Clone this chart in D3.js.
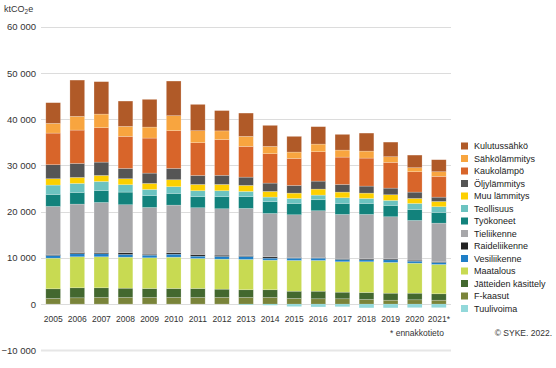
<!DOCTYPE html>
<html><head><meta charset="utf-8">
<script src="https://cdn.jsdelivr.net/npm/d3@7"></script>
<style>body{margin:0;background:#fff}svg{display:block;font-family:"Liberation Sans",Arial,sans-serif}</style>
</head><body><svg id="c" width="556" height="368"></svg>
<script>
const years = ["2005","2006","2007","2008","2009","2010","2011","2012","2013","2014","2015","2016","2017","2018","2019","2020","2021*"];
const seriesNames = ["Kulutussähkö","Sähkölämmitys","Kaukolämpö","Öljylämmitys","Muu lämmitys","Teollisuus","Työkoneet","Tieliikenne","Raideliikenne","Vesiliikenne","Maatalous","Jätteiden käsittely","F-kaasut","Tuulivoima"];
const colors = ["#b05a28","#f8a53f","#d8652a","#555555","#fdd000","#6cc3c0","#12827c","#a7a7aa","#222222","#1f7fc7","#c8da52","#43682f","#7a843a","#92d8da"];
const kulutussahko = [4480,7850,7020,5480,6000,7490,5690,4390,5040,4550,3400,3770,3400,3900,3160,2730,2600];
const sahkolammitys = [2100,2970,2940,2160,2380,3250,2600,1880,2170,1580,1370,1650,1520,1510,1230,870,1010];
const kaukolampo = [6840,7210,7450,6930,7580,8160,7080,7730,6650,6360,5840,6360,5910,6060,5570,4410,4490];
const oljylammitys = [3030,3030,2880,2230,2230,2450,1950,1980,1790,1800,1670,1730,1660,1520,1430,1370,930];
const muuLammitys = [1380,1300,1300,1300,1300,1510,1360,1360,1300,1230,1150,1300,1220,1150,1230,1080,1140];
const teollisuus = [2020,1950,1950,1600,1300,1450,1300,1300,1150,1000,1080,1000,1230,1080,1080,1300,1240];
const tyokoneet = [2600,2530,2600,2730,2600,2540,2380,2600,2530,2540,2450,2380,2380,2380,2450,2380,2320];
const tieliikenne = [10390,10460,10820,10390,10110,10300,10110,10040,10180,9370,9240,10110,9530,9590,9090,8600,8290];
const raideliikenne = [220,280,280,370,210,310,370,280,210,300,150,150,210,220,220,210,210];
const vesiliikenne = [580,650,650,590,570,650,500,590,650,440,500,500,500,430,580,440,440];
const maatalous = [6630,6710,6710,6710,6640,6770,6490,6490,6560,6400,6650,6650,6580,6650,6650,6490,6340];
const jatteidenKasittely = [2100,2170,2100,2010,1950,1950,1950,1800,1670,1670,1580,1640,1430,1510,1520,1430,1390];
const fKaasut = [1210,1360,1430,1430,1430,1430,1430,1430,1430,1430,1210,1150,1150,1000,840,930,840];
const tuulivoima = [0,0,0,0,0,0,0,0,-150,-250,-520,-600,-550,-800,-800,-750,-750];
const yTicks = [-10000,0,10000,20000,30000,40000,50000,60000];

const seriesValues = [kulutussahko,sahkolammitys,kaukolampo,oljylammitys,muuLammitys,teollisuus,tyokoneet,tieliikenne,raideliikenne,vesiliikenne,maatalous,jatteidenKasittely,fKaasut,tuulivoima];

const svg = d3.select("#c");
const x = d3.scaleBand().domain(years).range([41,451]).paddingInner(0.39).paddingOuter(0.2);
const y = d3.scaleLinear().domain([-10000,60000]).range([350.3,26.8]);

// gridlines
svg.append("g").selectAll("line").data(yTicks).join("line")
  .attr("x1",41).attr("x2",451)
  .attr("y1",d=>Math.round(y(d))+0.5).attr("y2",d=>Math.round(y(d))+0.5)
  .attr("stroke",d=>d===-10000?"#e6e6e6":"#dcdcdc").attr("stroke-width",d=>d===-10000?2:1);

// y axis labels
const yAxis = d3.axisLeft(y).tickValues(yTicks).tickSize(0).tickPadding(0)
  .tickFormat(d=>d3.format(",")(d).replace(/,/g," ").replace("-","-"));
const ya = svg.append("g").attr("transform","translate(36,0)").call(yAxis);
ya.select(".domain").remove();
ya.selectAll("text").attr("font-size",9.5).attr("fill","#333").attr("font-family","Liberation Sans, Arial, sans-serif");

// x axis labels
const xAxis = d3.axisBottom(x).tickSize(0).tickPadding(0);
const xa = svg.append("g").attr("transform","translate(0,316)").call(xAxis);
xa.select(".domain").remove();
xa.selectAll("text").attr("font-size",8.5).attr("fill","#333").attr("font-family","Liberation Sans, Arial, sans-serif");

// stacked bars: positive stacks from bottom (F-kaasut) up; Tuulivoima negative
const order = d3.range(seriesNames.length - 1).reverse(); // 12..0
const g = svg.append("g");
years.forEach((yr,i)=>{
  let base = 0;
  order.forEach(s=>{
    const v = seriesValues[s][i];
    g.append("rect")
      .attr("x",x(yr)).attr("width",x.bandwidth())
      .attr("y",y(base+v)).attr("height",y(base)-y(base+v))
      .attr("fill",colors[s]).attr("stroke","#fff").attr("stroke-opacity",0.35).attr("stroke-width",0.6);
    base += v;
  });
  const tv = tuulivoima[i];
  if (tv < 0) {
    g.append("rect").attr("x",x(yr)).attr("width",x.bandwidth())
      .attr("y",y(0)).attr("height",y(tv)-y(0)).attr("fill",colors[13]);
  }
});

// legend
const lg = svg.append("g").attr("transform","translate(461,146)");
seriesNames.forEach((n,i)=>{
  const row = lg.append("g").attr("transform",`translate(0,${i*12.5})`);
  row.append("rect").attr("x",0).attr("y",-3.5).attr("width",7).attr("height",7).attr("fill",colors[i]);
  row.append("text").attr("x",13).attr("y",3.3).attr("font-size",9).attr("fill","#222").text(n);
});

// unit label
const ut = svg.append("text").attr("x",4).attr("y",12).attr("font-size",9).attr("fill","#333");
ut.append("tspan").text("ktCO");
ut.append("tspan").attr("font-size",6.5).attr("dy",2).text("2");
ut.append("tspan").attr("dy",-2).text("e");

// footnotes
svg.append("text").attr("x",390).attr("y",336).attr("font-size",8.5).attr("fill","#333").text("* ennakkotieto");
svg.append("text").attr("x",552).attr("y",336).attr("text-anchor","end").attr("font-size",8.5).attr("fill","#333").text("© SYKE. 2022.");
</script></body></html>
